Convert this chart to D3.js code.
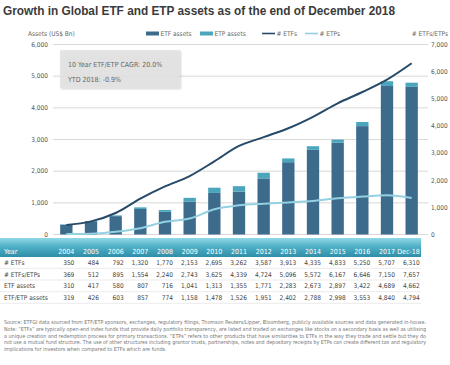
<!DOCTYPE html>
<html>
<head>
<meta charset="utf-8">
<script src="https://cdn.jsdelivr.net/npm/d3@7"></script>
<style>
  body { margin: 0; background: #fff; }
  text { font-family: "Liberation Sans Narrow", "DejaVu Sans Condensed", "Liberation Sans", sans-serif; }
</style>
</head>
<body>
<script>
// data (table rows)
const years = ["2004","2005","2006","2007","2008","2009","2010","2011","2012","2013","2014","2015","2016","2017","Dec-18"];
const numETFs = [350,484,792,1320,1770,2153,2695,3262,3587,3913,4335,4833,5250,5707,6310];
const numETFsETPs = [369,512,895,1554,2240,2743,3625,4339,4724,5096,5572,6167,6646,7150,7657];
const numETPs = [19,28,103,234,470,590,930,1077,1137,1183,1237,1334,1396,1443,1347];
const etfAssets = [310,417,580,807,716,1041,1313,1355,1771,2283,2673,2897,3422,4689,4662];
const etfEtpAssets = [319,426,603,857,774,1158,1478,1526,1951,2402,2788,2998,3553,4840,4794];
const leftTicks = [0,1000,2000,3000,4000,5000,6000];
const rightTicks = [0,1000,2000,3000,4000,5000,6000,7000];
const notes = [
  "Source: ETFGI data sourced from ETF/ETP sponsors, exchanges, regulatory filings, Thomson Reuters/Lipper, Bloomberg, publicly available sources and data generated in-house.",
  "Note: \u201CETFs\u201D are typically open-end index funds that provide daily portfolio transparency, are listed and traded on exchanges like stocks on a secondary basis as well as utilising",
  "a unique creation and redemption process for primary transactions. \u201CETPs\u201D refers to other products that have similarities to ETFs in the way they trade and settle but they do",
  "not use a mutual fund structure. The use of other structures including grantor trusts, partnerships, notes and depositary receipts by ETPs can create different tax and regulatory",
  "implications for investors when compared to ETFs which are funds."
];

const width = 450, height = 365;
const cDark = "#3d6b8c", cTeal = "#4aa5bd", cLine = "#264a68", cLight = "#93d0e1";

const svg = d3.select("body").append("svg")
  .attr("width", width).attr("height", height);

const defs = svg.append("defs");
const grad = defs.append("linearGradient").attr("id", "hdr").attr("x1", 0).attr("y1", 0).attr("x2", 0).attr("y2", 1);
grad.append("stop").attr("offset", "0%").attr("stop-color", "#8fd8e6");
grad.append("stop").attr("offset", "45%").attr("stop-color", "#4fb0c6");
grad.append("stop").attr("offset", "100%").attr("stop-color", "#2f8ea8");
const sh = defs.append("filter").attr("id", "sh").attr("x", "-10%").attr("y", "-20%").attr("width", "130%").attr("height", "150%");
sh.append("feDropShadow").attr("dx", 1).attr("dy", 1).attr("stdDeviation", 1.2).attr("flood-color", "#999").attr("flood-opacity", 0.5);

const x = d3.scaleBand().domain(years).range([54, 424]).paddingInner(0.5).paddingOuter(0.25);
const yL = d3.scaleLinear().domain([0, 6000]).range([234.5, 44.5]);
const yR = d3.scaleLinear().domain([0, 7000]).range([234.5, 44.5]);
const cx = d => x(d) + x.bandwidth() / 2;

// title
svg.append("text")
  .attr("x", 3).attr("y", 15)
  .attr("textLength", 392).attr("lengthAdjust", "spacingAndGlyphs")
  .style("font-family", "'Liberation Sans', sans-serif")
  .style("font-size", "12px").style("font-weight", "bold")
  .attr("fill", "#3b3b3b")
  .text("Growth in Global ETF and ETP assets as of the end of December 2018");

svg.append("text").attr("x", 28).attr("y", 36)
  .style("font-size", "6.5px").attr("fill", "#666").text("Assets (US$ Bn)");
svg.append("text").attr("x", 448).attr("y", 36).attr("text-anchor", "end")
  .style("font-size", "6.5px").attr("fill", "#666").text("# ETFs/ETPs");

// legend
const legend = [
  {label: "ETF assets", color: cDark, type: "rect", x: 146},
  {label: "ETP assets", color: cTeal, type: "rect", x: 200},
  {label: "# ETFs", color: cLine, type: "line", x: 262},
  {label: "# ETPs", color: cLight, type: "line", x: 305}
];
const lg = svg.append("g").selectAll("g").data(legend).join("g")
  .attr("transform", d => `translate(${d.x},33.5)`);
lg.filter(d => d.type === "rect").append("rect")
  .attr("x", 0).attr("y", -2).attr("width", 13).attr("height", 4).attr("fill", d => d.color);
lg.filter(d => d.type === "line").append("line")
  .attr("x1", 0).attr("x2", 13).attr("y1", 0).attr("y2", 0)
  .attr("stroke", d => d.color).attr("stroke-width", 1.6);
lg.append("text").attr("x", 14.5).attr("y", 2.3)
  .style("font-size", "6.5px").attr("fill", "#666").text(d => d.label);

// grid + axes
svg.append("g").selectAll("line").data(leftTicks).join("line")
  .attr("x1", 53).attr("x2", 428)
  .attr("y1", d => yL(d)).attr("y2", d => yL(d))
  .attr("stroke", "#cfcfcf").attr("stroke-width", 0.8);
svg.append("g").selectAll("text").data(leftTicks).join("text")
  .attr("x", 48).attr("y", d => yL(d) + 2.3).attr("text-anchor", "end")
  .style("font-size", "6.5px").attr("fill", "#555")
  .text(d => d3.format(",")(d));
svg.append("g").selectAll("text").data(rightTicks).join("text")
  .attr("x", 431).attr("y", d => yR(d) + 2.3)
  .style("font-size", "6.5px").attr("fill", "#555")
  .text(d => d3.format(",")(d));

// stacked bars
const bars = svg.append("g");
bars.selectAll("rect.etf").data(years).join("rect").attr("class", "etf")
  .attr("x", d => x(d)).attr("width", x.bandwidth())
  .attr("y", (d, i) => yL(etfAssets[i]))
  .attr("height", (d, i) => yL(0) - yL(etfAssets[i]))
  .attr("fill", cDark);
bars.selectAll("rect.etp").data(years).join("rect").attr("class", "etp")
  .attr("x", d => x(d)).attr("width", x.bandwidth())
  .attr("y", (d, i) => yL(etfEtpAssets[i]))
  .attr("height", (d, i) => yL(etfAssets[i]) - yL(etfEtpAssets[i]))
  .attr("fill", cTeal);

// lines
const line = d3.line().x(d => cx(d[0])).y(d => yR(d[1])).curve(d3.curveMonotoneX);
svg.append("path").datum(years.map((y, i) => [y, numETPs[i]]))
  .attr("d", line).attr("fill", "none").attr("stroke", cLight).attr("stroke-width", 2);
svg.append("path").datum(years.map((y, i) => [y, numETFs[i]]))
  .attr("d", line).attr("fill", "none").attr("stroke", cLine).attr("stroke-width", 2);

// annotation box
svg.append("rect").attr("x", 60).attr("y", 50).attr("width", 120).attr("height", 38)
  .attr("fill", "#e4e4e4").attr("fill-opacity", 0.85).attr("filter", "url(#sh)");
svg.append("text").attr("x", 68).attr("y", 67).style("font-size", "7px").attr("fill", "#666")
  .text("10 Year ETF/ETP CAGR: 20.0%");
svg.append("text").attr("x", 68).attr("y", 82).style("font-size", "7px").attr("fill", "#666")
  .text("YTD 2018: -0.9%");

// table
svg.append("rect").attr("x", 0).attr("y", 238).attr("width", 421).attr("height", 19).attr("fill", "url(#hdr)");
svg.append("text").attr("x", 4).attr("y", 253.5).style("font-size", "7px").attr("fill", "#fff").text("Year");
svg.append("g").selectAll("text").data(years).join("text")
  .attr("x", d => cx(d) + 8).attr("y", 253.5).attr("text-anchor", "end")
  .style("font-size", "7px").attr("fill", "#fff").text(d => d);

const rows = [
  {label: "# ETFs", values: numETFs},
  {label: "# ETFs/ETPs", values: numETFsETPs},
  {label: "ETF assets", values: etfAssets},
  {label: "ETF/ETP assets", values: etfEtpAssets}
];
const rowY = [265, 276.7, 288.4, 300];
const tr = svg.append("g").selectAll("g").data(rows).join("g")
  .attr("transform", (d, i) => `translate(0,${rowY[i]})`);
tr.append("line").attr("x1", 0).attr("x2", 421).attr("y1", 3.3).attr("y2", 3.3)
  .attr("stroke", "#e2e2e2").attr("stroke-width", 0.7);
tr.append("text").attr("x", 4).style("font-size", "6.5px").attr("fill", "#444").text(d => d.label);
tr.selectAll("text.v").data(d => d.values).join("text").attr("class", "v")
  .attr("x", (d, i) => cx(years[i]) + 8).attr("text-anchor", "end")
  .style("font-size", "6.5px").attr("fill", "#444")
  .text(d => d3.format(",")(d));

// footnote
svg.append("g").selectAll("text").data(notes).join("text")
  .attr("x", 4).attr("y", (d, i) => 324 + i * 6.8)
  .attr("textLength", (d, i) => i < notes.length - 1 ? 422 : null)
  .attr("lengthAdjust", "spacingAndGlyphs")
  .style("font-size", "5.4px").attr("fill", "#777")
  .text(d => d);
</script>
</body>
</html>
